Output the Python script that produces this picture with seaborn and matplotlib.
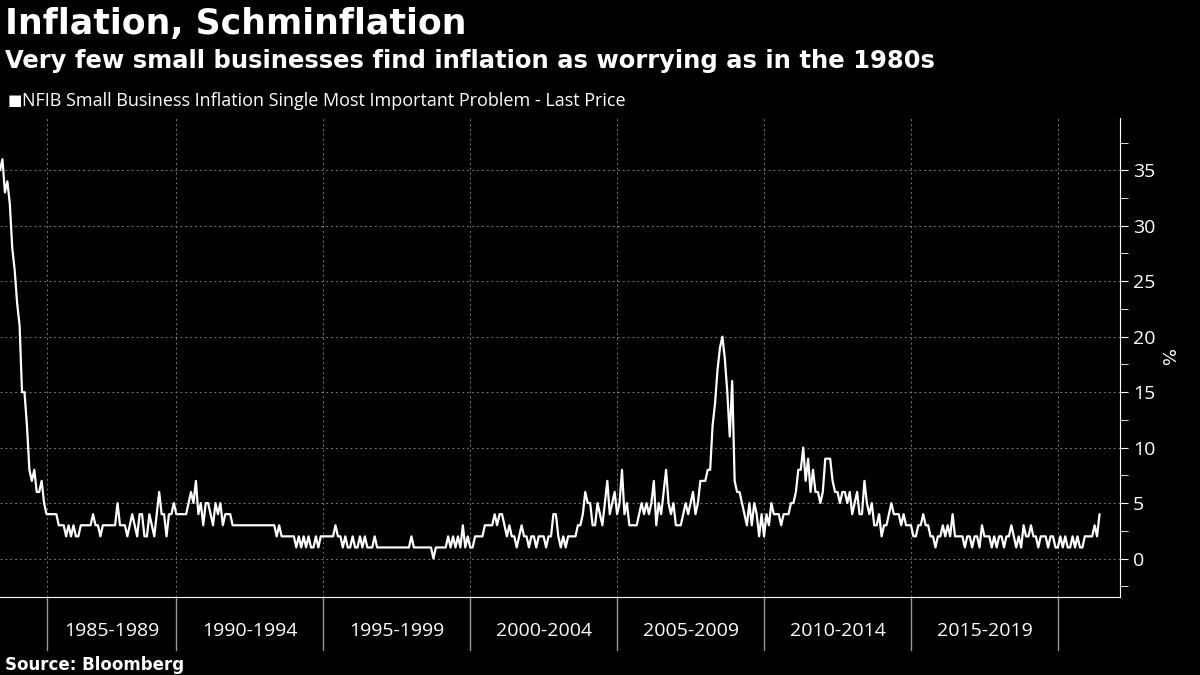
import numpy as np
import pandas as pd
import matplotlib
matplotlib.use("Agg")
import matplotlib.pyplot as plt
import seaborn as sns

start_year = 1984.0
values = [
    35, 36, 33, 34, 32, 28, 26, 23, 21, 15, 15, 12,  # 1984
    8, 7, 8, 6, 6, 7, 5, 4, 4, 4, 4, 4,             # 1985
    3, 3, 3, 2, 3, 2, 3, 2, 2, 3, 3, 3,             # 1986
    3, 3, 4, 3, 3, 2, 3, 3, 3, 3, 3, 3,             # 1987
    5, 3, 3, 3, 2, 3, 4, 3, 2, 4, 4, 2,             # 1988
    2, 4, 3, 2, 4, 6, 4, 4, 2, 4, 4, 5,             # 1989
    4, 4, 4, 4, 4, 5, 6, 5, 7, 4, 5, 3,             # 1990
    5, 5, 4, 3, 5, 4, 5, 3, 4, 4, 4, 3,             # 1991
    3, 3, 3, 3, 3, 3, 3, 3, 3, 3, 3, 3,             # 1992
    3, 3, 3, 3, 3, 2, 3, 2, 2, 2, 2, 2,             # 1993
    2, 1, 2, 1, 2, 1, 2, 1, 1, 2, 1, 2,             # 1994
    2, 2, 2, 2, 2, 3, 2, 2, 1, 2, 1, 1,             # 1995
    2, 1, 1, 2, 1, 2, 1, 1, 1, 2, 1, 1,             # 1996
    1, 1, 1, 1, 1, 1, 1, 1, 1, 1, 1, 1,             # 1997
    2, 1, 1, 1, 1, 1, 1, 1, 1, 0, 1, 1,             # 1998
    1, 1, 1, 2, 1, 2, 1, 2, 1, 3, 1, 2,             # 1999
    1, 1, 2, 2, 2, 2, 3, 3, 3, 3, 4, 3,             # 2000
    4, 4, 3, 2, 3, 2, 2, 1, 2, 3, 2, 2,             # 2001
    1, 2, 2, 1, 2, 2, 2, 1, 2, 2, 4, 4,             # 2002
    2, 1, 2, 1, 2, 2, 2, 2, 3, 3, 4, 6,             # 2003
    5, 5, 3, 3, 5, 4, 3, 5, 7, 4, 5, 6,             # 2004
    4, 5, 8, 4, 5, 3, 3, 3, 3, 4, 5, 4,             # 2005
    5, 4, 5, 7, 3, 5, 4, 6, 8, 5, 4, 5,             # 2006
    3, 3, 3, 4, 5, 4, 5, 6, 4, 5, 7, 7,             # 2007
    7, 8, 8, 12, 14, 17, 19, 20, 18, 15, 11, 16,    # 2008
    7, 6, 6, 5, 4, 3, 5, 3, 5, 4, 2, 4,             # 2009
    2, 4, 3, 5, 4, 4, 4, 3, 4, 4, 4, 5,             # 2010
    5, 6, 8, 8, 10, 7, 9, 6, 8, 6, 6, 5,            # 2011
    6, 9, 9, 9, 7, 6, 6, 5, 6, 6, 5, 6,             # 2012
    4, 5, 6, 4, 4, 7, 5, 4, 5, 3, 3, 4,             # 2013
    2, 3, 3, 4, 5, 4, 4, 4, 3, 4, 3, 3,             # 2014
    3, 2, 2, 3, 3, 4, 3, 3, 2, 2, 1, 2,             # 2015
    2, 3, 2, 3, 2, 4, 2, 2, 2, 2, 1, 2,             # 2016
    2, 1, 2, 2, 1, 3, 2, 2, 2, 1, 2, 1,             # 2017
    2, 2, 1, 2, 2, 3, 2, 1, 2, 1, 3, 2,             # 2018
    2, 3, 2, 2, 1, 2, 2, 2, 1, 2, 2, 1,             # 2019
    1, 2, 1, 2, 1, 1, 2, 1, 2, 1, 1, 2,             # 2020
    2, 2, 2, 3, 2, 4,                               # 2021
]
sep_years = [1985.6, 1990, 1995, 2000, 2005, 2010, 2015, 2020]
period_labels = ["1985-1989", "1990-1994", "1995-1999", "2000-2004",
                 "2005-2009", "2010-2014", "2015-2019"]
yticks = [0, 5, 10, 15, 20, 25, 30, 35]

x = start_year + np.arange(len(values)) / 12.0
df = pd.DataFrame({"year": x, "value": values})

sns.set_style("dark")
plt.rcParams["font.family"] = ["DejaVu Sans"]
fig = plt.figure(figsize=(12, 6.75), dpi=100, facecolor="black")
ax = fig.add_axes([0.0, 0.115, 0.933, 0.71])
ax.set_facecolor("black")
sns.lineplot(data=df, x="year", y="value", ax=ax, color="white", linewidth=1.6)

ax.set_xlim(1984.0, 2022.1)
ax.set_ylim(-3.5, 39.7)
ax.yaxis.tick_right()
ax.yaxis.set_label_position("right")
ax.set_yticks(yticks)
ax.set_yticks(np.arange(-2.5, 39, 5), minor=True)
ax.set_yticklabels([str(t) for t in yticks], color="white", fontsize=14, family="Open Sans")
ax.tick_params(axis="y", which="both", colors="white", length=6, direction="out")
ax.set_ylabel("%", color="white", fontsize=13, rotation=270, labelpad=14)
ax.set_xlabel("")
ax.set_xticks(np.arange(1984, 2022, 1), minor=True)
ax.set_xticks([])
ax.tick_params(axis="x", which="minor", colors="white", length=6)
for s in ["top", "left"]:
    ax.spines[s].set_visible(False)
ax.spines["bottom"].set_color("white")
ax.spines["right"].set_color("white")
ax.grid(False)
for t in yticks:
    ax.axhline(t, color="#777777", linestyle=(0, (2, 3)), linewidth=0.7, zorder=0)
for sx in sep_years:
    ax.axvline(sx, color="#777777", linestyle=(0, (2, 3)), linewidth=0.7, zorder=0)
    ax.plot([sx, sx], [0, -0.11], transform=ax.get_xaxis_transform(), color="#999999",
            linewidth=1, clip_on=False)
for i, lab in enumerate(period_labels):
    mid = (sep_years[i] + sep_years[i + 1]) / 2
    ax.text(mid, -0.07, lab, transform=ax.get_xaxis_transform(), ha="center", va="center",
            color="white", fontsize=14, family="Open Sans")

fig.text(0.004, 0.965, "Inflation, Schminflation", color="white", fontsize=25,
         fontweight="bold", va="center")
fig.text(0.004, 0.91, "Very few small businesses find inflation as worrying as in the 1980s",
         color="white", fontsize=17.5, fontweight="bold", va="center")
fig.text(0.006, 0.851, "\u25A0", color="white", fontsize=11, va="center")
fig.text(0.018, 0.851, "NFIB Small Business Inflation Single Most Important Problem - Last Price",
         color="white", fontsize=13, va="center", family="Open Sans")
fig.text(0.004, 0.015, "Source: Bloomberg", color="white", fontsize=12,
         fontweight="bold", va="center")

fig.savefig("out.png", dpi=100, facecolor="black")
